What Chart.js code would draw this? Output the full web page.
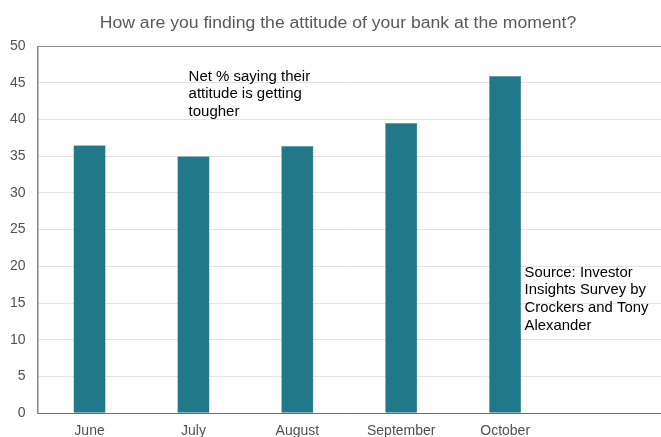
<!DOCTYPE html>
<html>
<head>
<meta charset="utf-8">
<script src="https://cdn.jsdelivr.net/npm/chart.js@4/dist/chart.umd.min.js"></script>
<style>
  html, body { margin: 0; padding: 0; background: #fff; }
  #wrap { width: 661px; height: 437px; }
</style>
</head>
<body>
<div id="wrap"><canvas id="bank-chart" width="661" height="437"></canvas></div>
<script>
// Monthly survey results (last slot is left empty on purpose)
const months = ['June', 'July', 'August', 'September', 'October', ''];
const netTougher = [36.5, 35.0, 36.4, 39.5, 45.9, null];
const yTicks = [0, 5, 10, 15, 20, 25, 30, 35, 40, 45, 50];

const titleText = 'How are you finding the attitude of your bank at the moment?';
const noteLines = ['Net % saying their', 'attitude is getting', 'tougher'];
const sourceLines = ['Source: Investor', 'Insights Survey by', 'Crockers and Tony', 'Alexander'];

const FONT = '"Liberation Sans", Arial, sans-serif';

// draw a block of text slightly widened, like the original Excel export
function drawLines(ctx, lines, x, y, size, step, stretch, color) {
  ctx.save();
  ctx.fillStyle = color;
  ctx.font = size + 'px ' + FONT;
  ctx.textBaseline = 'alphabetic';
  ctx.translate(x, 0);
  ctx.scale(stretch, 1);
  lines.forEach((t, i) => ctx.fillText(t, 0, y + i * step));
  ctx.restore();
}

// title, box around the plot area and the two free-floating text notes
const notesPlugin = {
  id: 'notes',
  beforeDatasetsDraw(chart) {
    const { ctx, chartArea: a } = chart;
    ctx.save();
    ctx.strokeStyle = '#8a8a8a';
    ctx.lineWidth = 1;
    ctx.beginPath();
    ctx.moveTo(a.left + 0.5, a.bottom);
    ctx.lineTo(a.left + 0.5, a.top + 0.5);
    ctx.lineTo(a.right, a.top + 0.5);
    ctx.stroke();
    ctx.restore();
  },
  afterDraw(chart) {
    const { ctx, chartArea: a } = chart;
    ctx.save();
    ctx.font = '16px ' + FONT;
    const w = ctx.measureText(titleText).width * 1.1;
    ctx.restore();
    drawLines(ctx, [titleText], 338 - w / 2, 28, 16, 0, 1.1, '#595959');
    drawLines(ctx, noteLines, a.left + 151, a.top + 34.5, 14, 17.5, 1.07, '#000');
    drawLines(ctx, sourceLines, a.left + 487, a.top + 230.7, 15, 17.6, 0.99, '#000');
  }
};

new Chart(document.getElementById('bank-chart'), {
  type: 'bar',
  data: {
    labels: months,
    datasets: [{
      data: netTougher,
      backgroundColor: '#217889',
      borderColor: '#4d97a5',
      borderWidth: 0.5,
      barPercentage: 0.62,
      categoryPercentage: 0.5
    }]
  },
  options: {
    responsive: false,
    animation: false,
    layout: { padding: { left: -2, right: 0, top: 46, bottom: -13 } },
    plugins: {
      legend: { display: false },
      tooltip: { enabled: false },
      title: { display: false }
    },
    scales: {
      x: {
        grid: { display: false, drawTicks: false },
        border: { display: true, color: '#6e6e6e', width: 1 },
        ticks: {
          color: '#505050',
          font: { family: FONT, size: 14 },
          padding: 10,
          maxRotation: 0,
          autoSkip: false
        }
      },
      y: {
        min: 0,
        max: 50,
        afterBuildTicks(scale) {
          scale.ticks = yTicks.map(v => ({ value: v }));
        },
        grid: { color: '#e3e3e3', drawTicks: false },
        border: { display: true, color: '#8a8a8a', width: 1 },
        ticks: {
          color: '#505050',
          font: { family: FONT, size: 14 },
          padding: 12
        }
      }
    }
  },
  plugins: [notesPlugin]
});
</script>
</body>
</html>
